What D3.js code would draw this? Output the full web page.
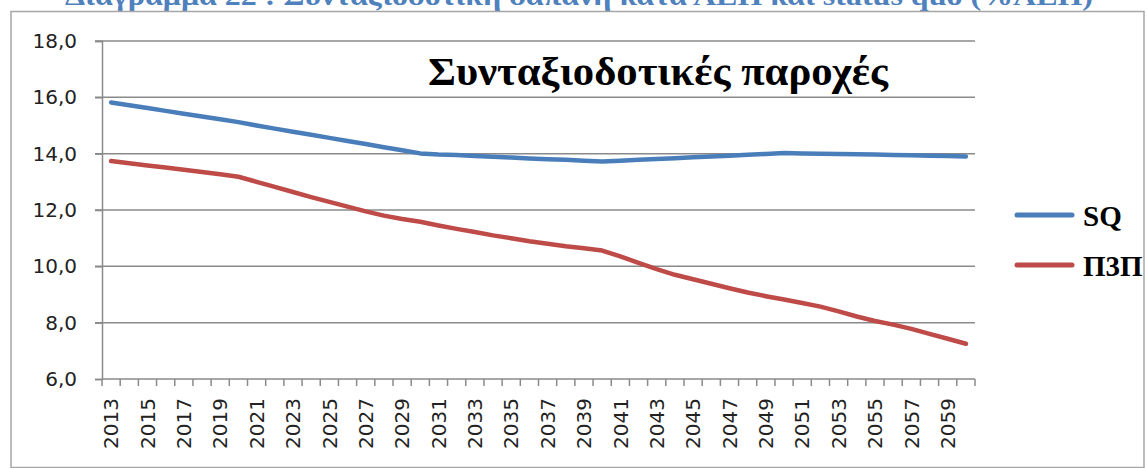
<!DOCTYPE html>
<html>
<head>
<meta charset="utf-8">
<script src="https://cdn.jsdelivr.net/npm/d3@7"></script>
<style>
  html, body { margin: 0; padding: 0; background: #fff; }
  svg { display: block; }
</style>
</head>
<body>
<svg id="chart" width="1148" height="468"></svg>
<script>
const years = d3.range(2013, 2061);
const seriesNames = ["SQ", "Π3Π"];
const seriesColors = ["#4a7ebb", "#be4b48"];
const sqValues = [
  15.82, 15.72, 15.62, 15.52, 15.42, 15.32, 15.22, 15.12,
  15.00, 14.89, 14.78, 14.67, 14.56, 14.45, 14.34, 14.23, 14.12, 14.01,
  13.97, 13.95, 13.92, 13.89, 13.86, 13.83, 13.80, 13.78, 13.75, 13.72,
  13.75, 13.78, 13.81, 13.84, 13.87, 13.90, 13.93, 13.96, 13.99, 14.02,
  14.01, 14.00, 13.99, 13.98, 13.97, 13.95, 13.94, 13.93, 13.92, 13.90
];
const p3pValues = [
  13.74, 13.66, 13.58, 13.51, 13.43, 13.35, 13.27, 13.18,
  13.00, 12.82, 12.64, 12.46, 12.29, 12.12, 11.95, 11.80, 11.68, 11.58,
  11.45, 11.33, 11.22, 11.10, 11.00, 10.89, 10.80, 10.71, 10.64, 10.56,
  10.35, 10.12, 9.90, 9.70, 9.54, 9.38, 9.22, 9.07, 8.94, 8.82,
  8.70, 8.57, 8.40, 8.22, 8.06, 7.93, 7.78, 7.60, 7.43, 7.25
];
const yTicks = [6, 8, 10, 12, 14, 16, 18];
const pageTitle = "Διάγραμμα 22 : Συνταξιοδοτική δαπάνη κατά ΑΕΠ και status quo (%ΑΕΠ)";
const chartTitle = "Συνταξιοδοτικές παροχές";

const svg = d3.select("#chart");
const gridColor = "#8a8a8a";

// clipped page title above the chart frame
svg.append("text")
  .attr("x", 65).attr("y", 5)
  .attr("textLength", 1028).attr("lengthAdjust", "spacingAndGlyphs")
  .style("font-family", "'Liberation Serif', serif")
  .style("font-weight", "bold").style("font-size", "28px")
  .style("fill", "#4f81bd")
  .text(pageTitle);

// chart frame
svg.append("rect")
  .attr("x", 11).attr("y", 11.5).attr("width", 1133).attr("height", 456)
  .attr("fill", "#fff").attr("stroke", "#a6a6a6").attr("stroke-width", 1.5);

const x = d3.scaleBand().domain(years).range([102, 975]);
const y = d3.scaleLinear().domain([6, 18]).range([379, 41]);

// gridlines
svg.append("g").selectAll("line").data(yTicks.filter(d => d > 6)).join("line")
  .attr("x1", 95).attr("x2", 975)
  .attr("y1", d => y(d)).attr("y2", d => y(d))
  .attr("stroke", gridColor).attr("stroke-width", 1.5);

// y axis
const yAxis = svg.append("g").attr("transform", "translate(102,0)")
  .call(d3.axisLeft(y).tickValues(yTicks).tickSize(7).tickPadding(18)
    .tickFormat(d => d3.format(".1f")(d).replace(".", ",")));
yAxis.select(".domain").attr("stroke", gridColor).attr("stroke-width", 1.5);
yAxis.selectAll(".tick line").attr("stroke", gridColor).attr("stroke-width", 1.5);
yAxis.selectAll(".tick text")
  .style("font-family", "'DejaVu Sans', sans-serif").style("font-size", "20px")
  .attr("fill", "#222");

// x axis
const xg = svg.append("g").attr("transform", `translate(0,${y(6)})`);
xg.append("line").attr("x1", 102).attr("x2", 975).attr("y1", 0).attr("y2", 0)
  .attr("stroke", gridColor).attr("stroke-width", 1.5);
const bounds = years.map(d => x(d)).concat([x(years[years.length - 1]) + x.bandwidth()]);
xg.selectAll("line.tk").data(bounds).join("line").attr("class", "tk")
  .attr("x1", d => d).attr("x2", d => d).attr("y1", 0).attr("y2", 7)
  .attr("stroke", gridColor).attr("stroke-width", 1.5);
xg.selectAll("text").data(years.filter((d, i) => i % 2 === 0)).join("text")
  .attr("transform", d => `translate(${x(d) + x.bandwidth() / 2},19) rotate(-90)`)
  .attr("text-anchor", "end").attr("dy", "0.36em")
  .style("font-family", "'DejaVu Sans', sans-serif").style("font-size", "20px")
  .attr("fill", "#222")
  .text(d => d);

// lines
const line = d3.line()
  .x((d, i) => x(years[i]) + x.bandwidth() / 2)
  .y(d => y(d));
[sqValues, p3pValues].forEach((vals, k) => {
  svg.append("path").datum(vals)
    .attr("d", line).attr("fill", "none")
    .attr("stroke", seriesColors[k]).attr("stroke-width", 4.5)
    .attr("stroke-linejoin", "round").attr("stroke-linecap", "round");
});

// chart title
svg.append("text")
  .attr("x", 428).attr("y", 85)
  .attr("textLength", 460).attr("lengthAdjust", "spacingAndGlyphs")
  .style("font-family", "'Liberation Serif', serif")
  .style("font-weight", "bold").style("font-size", "40px")
  .attr("fill", "#000")
  .text(chartTitle);

// legend
const lg = svg.append("g");
seriesNames.forEach((name, k) => {
  const ly = 215 + k * 50;
  lg.append("line").attr("x1", 1017).attr("x2", 1072).attr("y1", ly).attr("y2", ly)
    .attr("stroke", seriesColors[k]).attr("stroke-width", 5).attr("stroke-linecap", "round");
  lg.append("text").attr("x", 1083).attr("y", ly + 11)
    .style("font-family", "'Liberation Serif', serif")
    .style("font-weight", "bold").style("font-size", "29px")
    .attr("fill", "#000")
    .text(name);
});
</script>
</body>
</html>
